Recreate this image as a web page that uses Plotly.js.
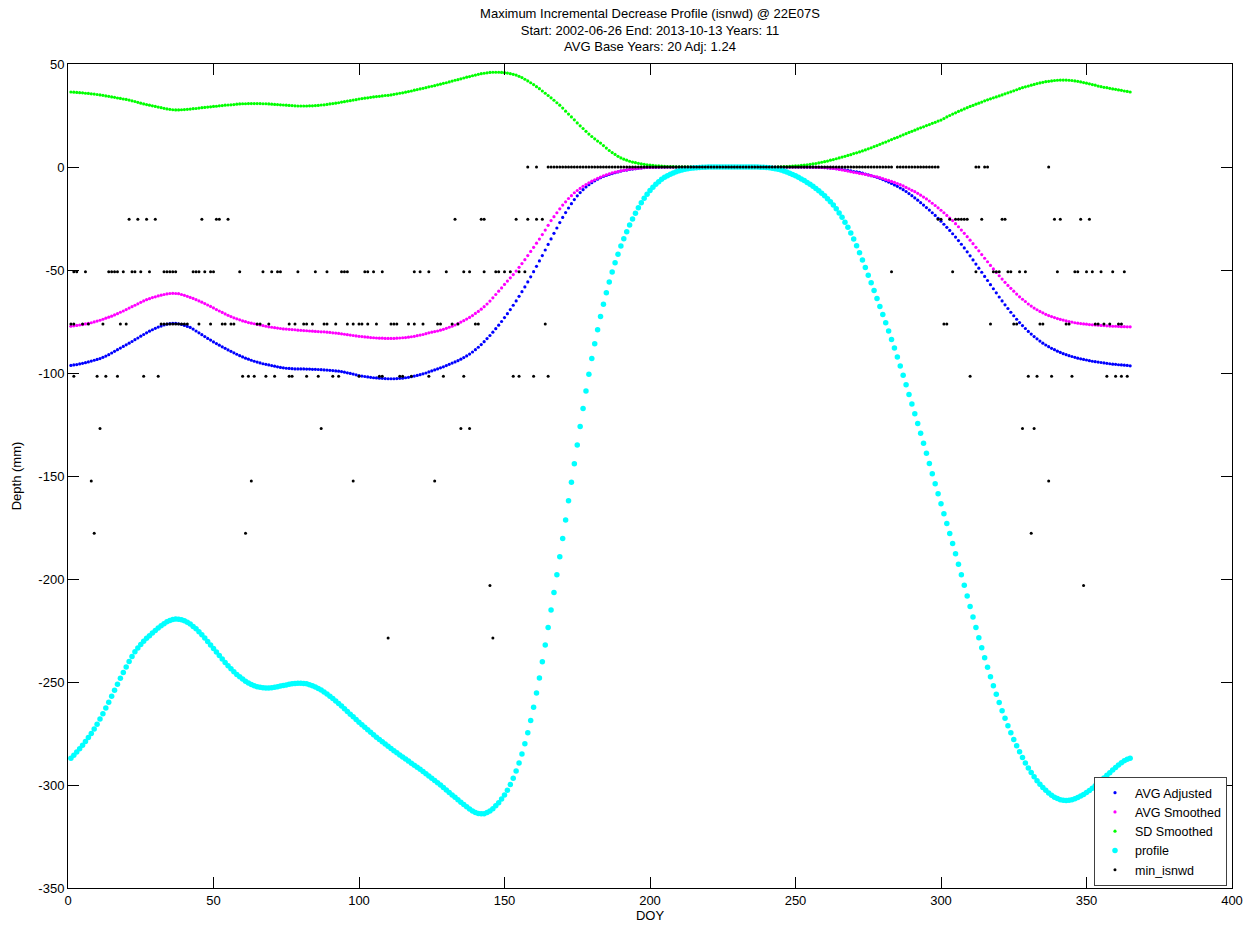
<!DOCTYPE html>
<html>
<head>
<meta charset="utf-8">
<script src="https://cdn.plot.ly/plotly-3.0.1.min.js"></script>
<style>html,body{margin:0;padding:0;background:#fff;}#chart{width:1252px;height:930px;}</style>
</head>
<body>
<div id="chart"></div>
<script>
// ---- Data (DOY 1..365) ----
const avgAdjusted = [
-96.3,-96.1,-95.9,-95.6,-95.3,-95.0,-94.6,-94.2,-93.8,-93.4,
-93.0,-92.4,-91.8,-91.1,-90.3,-89.5,-88.7,-87.9,-87.1,-86.3,
-85.5,-84.7,-83.8,-83.0,-82.1,-81.3,-80.5,-79.7,-79.0,-78.3,
-77.7,-77.2,-76.7,-76.3,-76.0,-75.9,-75.9,-76.1,-76.4,-76.9,
-77.4,-77.9,-78.7,-79.6,-80.5,-81.4,-82.3,-83.2,-84.0,-84.9,
-85.7,-86.5,-87.3,-88.0,-88.8,-89.5,-90.2,-90.9,-91.6,-92.2,
-92.8,-93.3,-93.8,-94.3,-94.7,-95.1,-95.5,-95.8,-96.1,-96.4,
-96.7,-97.0,-97.3,-97.5,-97.7,-97.8,-97.9,-98.0,-98.0,-98.0,
-98.0,-98.1,-98.1,-98.2,-98.2,-98.3,-98.4,-98.5,-98.6,-98.7,
-98.8,-99.0,-99.1,-99.3,-99.6,-99.9,-100.2,-100.5,-100.9,-101.3,
-101.5,-101.7,-101.9,-102.1,-102.3,-102.4,-102.5,-102.6,-102.7,-102.8,
-102.8,-102.8,-102.7,-102.6,-102.5,-102.3,-102.1,-101.8,-101.5,-101.2,
-100.8,-100.4,-100.0,-99.5,-99.0,-98.5,-98.0,-97.5,-97.0,-96.4,
-95.8,-95.2,-94.6,-94.0,-93.3,-92.5,-91.7,-90.8,-89.8,-88.7,
-87.5,-86.2,-84.8,-83.3,-81.8,-80.2,-78.5,-76.8,-75.0,-73.1,
-71.2,-69.2,-67.1,-65.0,-62.8,-60.5,-58.2,-55.8,-53.3,-50.8,
-48.2,-45.6,-43.0,-40.3,-37.6,-34.9,-32.2,-29.6,-27.0,-24.5,
-22.1,-19.9,-17.8,-15.8,-14.0,-12.4,-11.0,-9.7,-8.6,-7.6,
-6.7,-5.9,-5.2,-4.6,-4.1,-3.6,-3.2,-2.8,-2.4,-2.0,
-1.7,-1.5,-1.2,-1.0,-0.8,-0.6,-0.45,-0.3,-0.2,-0.15,
-0.1,-0.08,-0.05,-0.03,-0.02,0,0,0,0,0,
0,0,0,0,0,0,0,0,0,0,
0,0,0,0,0,0,0,0,0,0,
0,0,0,0,0,0,0,0,0,0,
0,0,0,0,0,0,0,0,0,0,
0,0,-0.02,-0.04,-0.06,-0.09,-0.12,-0.16,-0.2,-0.28,
-0.38,-0.5,-0.65,-0.8,-1.0,-1.2,-1.4,-1.6,-1.9,-2.2,
-2.4,-2.6,-3.0,-3.4,-3.8,-4.2,-4.6,-5.0,-5.5,-6.1,
-6.7,-7.3,-8.0,-8.7,-9.4,-10.2,-11.0,-11.9,-12.9,-13.9,
-15.0,-16.1,-17.3,-18.5,-19.7,-20.9,-22.2,-23.5,-24.9,-26.3,
-27.8,-29.3,-30.8,-32.4,-34.0,-35.7,-37.5,-39.3,-41.2,-43.1,
-45.1,-47.1,-49.1,-51.1,-53.1,-55.1,-57.1,-59.1,-61.1,-63.1,
-65.0,-66.9,-68.7,-70.5,-72.2,-73.9,-75.5,-77.0,-78.4,-79.8,
-81.1,-82.3,-83.4,-84.5,-85.5,-86.4,-87.2,-88.0,-88.7,-89.4,
-90.0,-90.6,-91.1,-91.6,-92.0,-92.4,-92.8,-93.1,-93.4,-93.7,
-94.0,-94.3,-94.5,-94.7,-94.9,-95.1,-95.3,-95.5,-95.7,-95.8,
-96.0,-96.1,-96.2,-96.3,-96.5
];

const avgSmoothed = [
-77.3,-77.1,-76.9,-76.7,-76.5,-76.2,-75.9,-75.6,-75.2,-74.8,
-74.4,-73.9,-73.4,-72.9,-72.4,-71.8,-71.2,-70.5,-69.9,-69.2,
-68.5,-67.8,-67.1,-66.4,-65.7,-65.0,-64.4,-63.9,-63.4,-63.0,
-62.6,-62.2,-61.9,-61.6,-61.4,-61.3,-61.4,-61.5,-61.9,-62.3,
-62.8,-63.3,-63.8,-64.4,-65.0,-65.6,-66.3,-67.0,-67.7,-68.4,
-69.2,-69.9,-70.6,-71.3,-72.0,-72.6,-73.2,-73.7,-74.2,-74.7,
-75.1,-75.5,-75.8,-76.1,-76.4,-76.7,-77.0,-77.3,-77.6,-77.8,
-78.0,-78.2,-78.4,-78.6,-78.7,-78.8,-78.9,-79.0,-79.2,-79.3,
-79.4,-79.5,-79.6,-79.7,-79.8,-79.9,-80.0,-80.0,-80.2,-80.3,
-80.5,-80.6,-80.8,-81.0,-81.2,-81.4,-81.6,-81.8,-82.0,-82.2,
-82.3,-82.5,-82.6,-82.8,-82.9,-83.0,-83.1,-83.1,-83.2,-83.2,
-83.2,-83.2,-83.1,-83.0,-82.9,-82.8,-82.6,-82.4,-82.2,-81.9,
-81.6,-81.3,-80.9,-80.5,-80.2,-79.9,-79.6,-79.2,-78.8,-78.3,
-77.8,-77.3,-76.7,-76.0,-75.3,-74.6,-73.8,-73.0,-72.1,-71.1,
-70.1,-69.0,-67.8,-66.5,-65.1,-63.5,-61.9,-60.3,-58.7,-57.0,
-55.4,-53.8,-52.2,-50.5,-48.7,-46.9,-45.0,-43.0,-41.0,-39.0,
-37.0,-35.0,-32.8,-30.6,-28.3,-26.0,-24.1,-22.2,-20.3,-18.5,
-16.9,-15.3,-13.9,-12.5,-11.4,-10.4,-9.4,-8.5,-7.7,-6.9,
-6.2,-5.5,-4.9,-4.3,-3.8,-3.3,-2.9,-2.5,-2.2,-1.9,
-1.6,-1.4,-1.1,-0.9,-0.8,-0.6,-0.5,-0.3,-0.25,-0.2,
-0.15,-0.1,-0.1,-0.05,-0.05,0,0,0,0,0,
0,0,0,0,0,0,0,0,0,0,
0,0,0,0,0,0,0,0,0,0,
0,0,0,0,0,0,0,0,0,0,
0,0,0,0,0,0,0,0,0,0,
-0.02,-0.03,-0.05,-0.07,-0.1,-0.12,-0.15,-0.2,-0.25,-0.3,
-0.4,-0.55,-0.7,-0.9,-1.2,-1.4,-1.7,-2.0,-2.3,-2.6,
-2.8,-3.1,-3.3,-3.6,-3.9,-4.2,-4.5,-4.8,-5.2,-5.6,
-6.1,-6.5,-7.0,-7.5,-8.0,-8.6,-9.2,-9.9,-10.6,-11.3,
-12.0,-12.8,-13.7,-14.6,-15.5,-16.5,-17.6,-18.7,-19.8,-21.0,
-22.2,-23.5,-24.8,-26.0,-27.5,-29.0,-30.6,-32.2,-33.8,-35.5,
-37.2,-39.0,-40.7,-42.5,-44.3,-46.0,-47.8,-49.5,-51.2,-52.8,
-54.4,-56.0,-57.5,-58.9,-60.3,-61.7,-63.0,-64.2,-65.3,-66.5,
-67.5,-68.5,-69.3,-70.1,-70.8,-71.5,-72.1,-72.6,-73.1,-73.6,
-74.0,-74.3,-74.7,-75.0,-75.3,-75.6,-75.8,-76.0,-76.2,-76.3,
-76.5,-76.6,-76.7,-76.8,-76.9,-77.0,-77.1,-77.2,-77.3,-77.3,
-77.4,-77.5,-77.5,-77.6,-77.6
];

const sdSmoothed = [
36.4,36.3,36.2,36.1,36.0,35.8,35.7,35.5,35.4,35.2,
35.0,34.8,34.5,34.3,34.0,33.8,33.5,33.3,33.0,32.8,
32.5,32.1,31.8,31.4,31.0,30.6,30.3,30.0,29.7,29.4,
29.1,28.8,28.5,28.2,28.0,27.8,27.7,27.7,27.8,27.9,
28.0,28.1,28.3,28.4,28.6,28.8,28.9,29.1,29.2,29.4,
29.5,29.7,29.8,30.0,30.1,30.2,30.3,30.5,30.6,30.7,
30.7,30.8,30.8,30.8,30.8,30.8,30.7,30.7,30.6,30.5,
30.4,30.3,30.2,30.1,30.0,29.9,29.8,29.7,29.6,29.6,
29.6,29.6,29.7,29.7,29.8,29.9,30.1,30.2,30.4,30.6,
30.8,31.0,31.2,31.5,31.7,32.0,32.2,32.5,32.7,33.0,
33.2,33.4,33.6,33.8,34.0,34.2,34.3,34.5,34.7,34.8,
35.0,35.3,35.5,35.8,36.0,36.3,36.6,36.9,37.3,37.6,
37.9,38.2,38.5,38.9,39.2,39.5,39.9,40.2,40.6,40.9,
41.3,41.7,42.1,42.4,42.8,43.2,43.6,43.9,44.3,44.6,
45.0,45.3,45.5,45.7,45.9,46.0,46.0,46.0,45.9,45.8,
45.6,45.3,45.0,44.6,44.0,43.4,42.6,41.8,40.9,40.0,
39.0,38.0,36.9,35.8,34.7,33.6,32.4,31.2,30.0,28.6,
27.1,25.7,24.3,22.9,21.4,20.0,18.7,17.3,16.0,14.8,
13.7,12.6,11.6,10.4,9.2,8.0,7.0,6.1,5.2,4.4,
3.8,3.3,2.8,2.4,2.1,1.8,1.5,1.3,1.1,0.9,
0.8,0.6,0.5,0.4,0.3,0.25,0.2,0.15,0.1,0.1,
0.1,0.1,0.05,0.05,0,0,0,0,0,0,
0,0,0,0,0,0,0,0,0,0,
0,0,0,0,0,0,0,0,0,0,
0,0,0,0.05,0.1,0.15,0.2,0.3,0.4,0.5,
0.6,0.8,0.9,1.1,1.3,1.5,1.7,2.0,2.3,2.6,
2.9,3.3,3.6,4.0,4.4,4.8,5.2,5.6,6.0,6.5,
6.9,7.3,7.8,8.3,8.8,9.3,9.9,10.4,11.0,11.6,
12.1,12.7,13.3,13.9,14.4,15.0,15.6,16.2,16.8,17.3,
17.9,18.5,19.0,19.5,20.1,20.6,21.2,21.7,22.3,22.8,
23.5,24.3,25.0,25.7,26.3,27.0,27.6,28.2,28.8,29.4,
29.9,30.5,31.0,31.5,32.1,32.6,33.1,33.6,34.0,34.5,
35.0,35.5,36.0,36.5,37.0,37.5,38.0,38.5,38.9,39.3,
39.7,40.1,40.5,40.8,41.1,41.4,41.6,41.8,42.0,42.1,
42.2,42.2,42.2,42.1,42.0,41.8,41.6,41.3,41.0,40.7,
40.4,40.0,39.7,39.3,39.0,38.7,38.5,38.2,37.9,37.7,
37.4,37.2,36.9,36.7,36.4
];

const profile = [
-287.0,-285.5,-284.0,-282.4,-280.7,-278.9,-277.0,-275.0,-272.8,-270.5,
-268.0,-265.4,-262.6,-259.8,-256.9,-254.0,-251.1,-248.2,-245.4,-242.7,
-240.1,-237.6,-235.3,-233.5,-231.8,-230.2,-228.8,-227.5,-226.2,-225.0,
-223.8,-222.7,-221.7,-220.8,-220.1,-219.6,-219.4,-219.5,-219.8,-220.3,
-221.0,-221.9,-223.0,-224.2,-225.6,-227.1,-228.7,-230.3,-232.0,-233.7,
-235.4,-237.1,-238.8,-240.5,-242.1,-243.6,-245.0,-246.3,-247.5,-248.6,
-249.6,-250.5,-251.2,-251.8,-252.3,-252.6,-252.8,-252.9,-252.9,-252.8,
-252.6,-252.3,-252.0,-251.7,-251.4,-251.1,-250.9,-250.7,-250.6,-250.6,
-250.7,-250.9,-251.3,-251.8,-252.4,-253.1,-253.9,-254.8,-255.8,-256.9,
-258.0,-259.2,-260.4,-261.7,-263.0,-264.3,-265.6,-266.9,-268.2,-269.5,
-270.8,-272.0,-273.2,-274.4,-275.6,-276.8,-277.9,-279.0,-280.1,-281.2,
-282.3,-283.4,-284.4,-285.4,-286.4,-287.4,-288.4,-289.4,-290.4,-291.4,
-292.4,-293.4,-294.5,-295.6,-296.7,-297.8,-298.9,-300.0,-301.2,-302.4,
-303.6,-304.8,-306.0,-307.2,-308.4,-309.5,-310.6,-311.6,-312.6,-313.3,
-313.8,-314.0,-313.9,-313.4,-312.6,-311.5,-310.1,-308.6,-306.8,-304.8,
-302.5,-299.8,-296.7,-293.2,-289.3,-284.9,-280.0,-274.6,-268.7,-262.3,
-255.4,-248.0,-240.2,-232.0,-223.5,-215.0,-206.5,-197.9,-189.2,-180.4,
-171.3,-162.0,-153.0,-144.0,-135.0,-126.0,-117.2,-108.7,-100.6,-93.0,
-85.8,-79.0,-72.6,-66.6,-61.0,-55.8,-51.0,-46.5,-42.3,-38.4,
-34.8,-31.4,-28.2,-25.2,-22.4,-19.8,-17.4,-15.2,-13.2,-11.4,
-9.8,-8.4,-7.1,-6.0,-5.0,-4.2,-3.5,-2.9,-2.3,-1.8,
-1.4,-1.1,-0.85,-0.65,-0.5,-0.35,-0.25,-0.15,-0.1,-0.05,
0,0,0,0,0,0,0,0,0,0,
0,0,0,0,0,0,-0.05,-0.1,-0.15,-0.25,
-0.4,-0.55,-0.8,-1.1,-1.5,-1.9,-2.4,-3.0,-3.6,-4.3,
-5.0,-5.8,-6.6,-7.5,-8.4,-9.4,-10.4,-11.5,-12.7,-14.0,
-15.4,-16.9,-18.5,-20.3,-22.3,-24.4,-26.8,-29.3,-32.0,-35.0,
-38.2,-41.6,-45.2,-48.8,-52.5,-56.2,-60.0,-63.8,-67.7,-71.6,
-75.6,-79.6,-83.7,-87.9,-92.2,-96.6,-101.1,-105.7,-110.4,-115.1,
-119.8,-124.5,-129.3,-134.1,-139.0,-143.9,-148.9,-153.8,-158.6,-163.5,
-168.3,-173.1,-177.9,-182.8,-187.8,-192.8,-197.9,-203.0,-208.2,-213.4,
-218.5,-223.5,-228.5,-233.4,-238.2,-242.9,-247.4,-251.8,-256.0,-260.0,
-263.9,-267.6,-271.2,-274.6,-277.9,-281.0,-283.9,-286.7,-289.3,-291.7,
-293.9,-296.0,-297.9,-299.6,-301.2,-302.6,-303.9,-305.0,-305.9,-306.6,
-307.1,-307.4,-307.5,-307.4,-307.1,-306.7,-306.1,-305.4,-304.6,-303.7,
-302.7,-301.6,-300.4,-299.1,-297.8,-296.6,-295.3,-294.0,-292.7,-291.5,
-290.3,-289.2,-288.2,-287.5,-287.0
];

// min_isnwd: depth levels (mm) and the DOYs at which each level occurs
const minLevels = [0, -25.4, -50.8, -76.2, -101.6, -127, -152.4, -177.8, -203.2, -228.6];
const minDoy0 = [158,161,165,166,167,168,169,170,171,172,173,174,175,176,177,178,179,180,181,182,183,184,185,186,187,188,189,190,191,192,193,194,195,196,197,198,199,200,201,202,203,204,205,206,207,208,209,210,211,212,213,214,215,216,217,218,219,220,221,222,223,224,225,226,227,228,229,230,231,232,233,234,235,236,237,238,239,240,241,242,243,244,245,246,247,248,249,250,251,252,253,254,255,256,257,258,259,260,261,262,263,264,265,266,267,268,269,270,271,272,273,274,275,276,277,278,279,280,281,282,283,285,286,287,288,289,290,291,292,293,294,295,296,297,298,299,312,313,315,316,337];
const minDoy25 = [21,24,27,30,46,51,52,55,133,142,143,154,158,161,163,299,300,303,305,306,307,308,309,314,321,322,339,341,348,351];
const minDoy51 = [2,3,6,14,15,16,17,19,22,23,25,28,33,34,35,36,37,43,44,45,47,49,50,59,67,70,72,73,79,85,89,94,95,96,102,103,105,108,119,121,124,130,136,138,143,147,148,150,152,155,157,283,304,312,318,319,320,323,324,327,329,340,346,347,350,352,355,359,363];
const minDoy76 = [1,2,5,7,12,18,20,32,33,34,35,36,37,38,39,40,41,45,49,53,54,56,57,65,66,69,76,78,81,82,84,88,89,92,96,98,100,101,103,106,111,112,113,117,119,122,127,128,132,134,140,141,164,301,302,317,325,326,334,335,343,344,353,354,356,358,361,362];
const minDoy102 = [2,10,13,17,26,31,60,62,64,68,71,76,77,82,86,91,93,100,107,108,114,115,118,124,129,136,153,155,160,165,310,330,333,338,345,357,360,362,364];
const minDoy127 = [11,87,135,138,328,332];
const minDoy152 = [8,63,98,126,337];
const minDoy178 = [9,61,331];
const minDoy203 = [145,349];
const minDoy229 = [110,146];
const minDoyByLevel = [minDoy0, minDoy25, minDoy51, minDoy76, minDoy102, minDoy127, minDoy152, minDoy178, minDoy203, minDoy229];

const xTicks = [0,50,100,150,200,250,300,350,400];
const yTicks = [-350,-300,-250,-200,-150,-100,-50,0,50];
const titleLines = [
  "Maximum Incremental Decrease Profile (isnwd) @ 22E07S",
  "Start: 2002-06-26 End: 2013-10-13 Years: 11",
  "AVG Base Years: 20 Adj: 1.24"
];

// ---- Build traces ----
const doy = avgAdjusted.map((_, i) => i + 1);
const minX = [], minY = [];
minDoyByLevel.forEach((days, k) => days.forEach(d => { minX.push(d); minY.push(minLevels[k]); }));

const FONT = "Liberation Sans, Arial, Helvetica, sans-serif";
function dots(name, y, color, size, x) {
  return { type: "scatter", mode: "markers", name: name, x: x || doy, y: y,
           marker: { color: color, size: size, line: { width: 0 } }, hoverinfo: "skip" };
}
const traces = [
  dots("AVG Adjusted", avgAdjusted, "#0000ff", 3.2),
  dots("AVG Smoothed", avgSmoothed, "#ff00ff", 3.2),
  dots("SD Smoothed", sdSmoothed, "#00ff00", 3.2),
  dots("profile", profile, "#00ffff", 5.5),
  dots("min_isnwd", minY, "#000000", 3, minX)
];

const axisCommon = {
  ticks: "inside", ticklen: 11, tickwidth: 1, tickcolor: "#000",
  showline: true, linecolor: "#000", linewidth: 1, mirror: "ticks",
  showgrid: false, zeroline: false,
  tickfont: { family: FONT, size: 13, color: "#000" },
  automargin: false
};

const layout = {
  width: 1252, height: 930,
  margin: { l: 68, r: 20, t: 64, b: 42 },
  paper_bgcolor: "#fff", plot_bgcolor: "#fff",
  font: { family: FONT, size: 13, color: "#000" },
  title: { text: titleLines.join("<br>"), font: { family: FONT, size: 13, color: "#000" },
           x: 0.5, xref: "paper", xanchor: "center", y: 0.981, yref: "container", yanchor: "top" },
  xaxis: Object.assign({}, axisCommon, { range: [0, 400], tickvals: xTicks, ticktext: xTicks.map(String),
           title: { text: "DOY", font: { family: FONT, size: 13, color: "#000" }, standoff: 2 } }),
  yaxis: Object.assign({}, axisCommon, { range: [-350, 50], tickvals: yTicks, ticktext: yTicks.map(v => v < 0 ? "-" + Math.abs(v) : String(v)),
           title: { text: "Depth (mm)", font: { family: FONT, size: 13, color: "#000" }, standoff: 13 } }),
  showlegend: true,
  legend: { x: 0.9957, y: 0.0024, xanchor: "right", yanchor: "bottom", bgcolor: "#fff",
            bordercolor: "#404040", borderwidth: 1, font: { family: FONT, size: 12.5, color: "#000" },
            tracegroupgap: 0, entrywidth: 110, entrywidthmode: "pixels" }
};

Plotly.newPlot("chart", traces, layout, { displayModeBar: false, staticPlot: true });
</script>
</body>
</html>
